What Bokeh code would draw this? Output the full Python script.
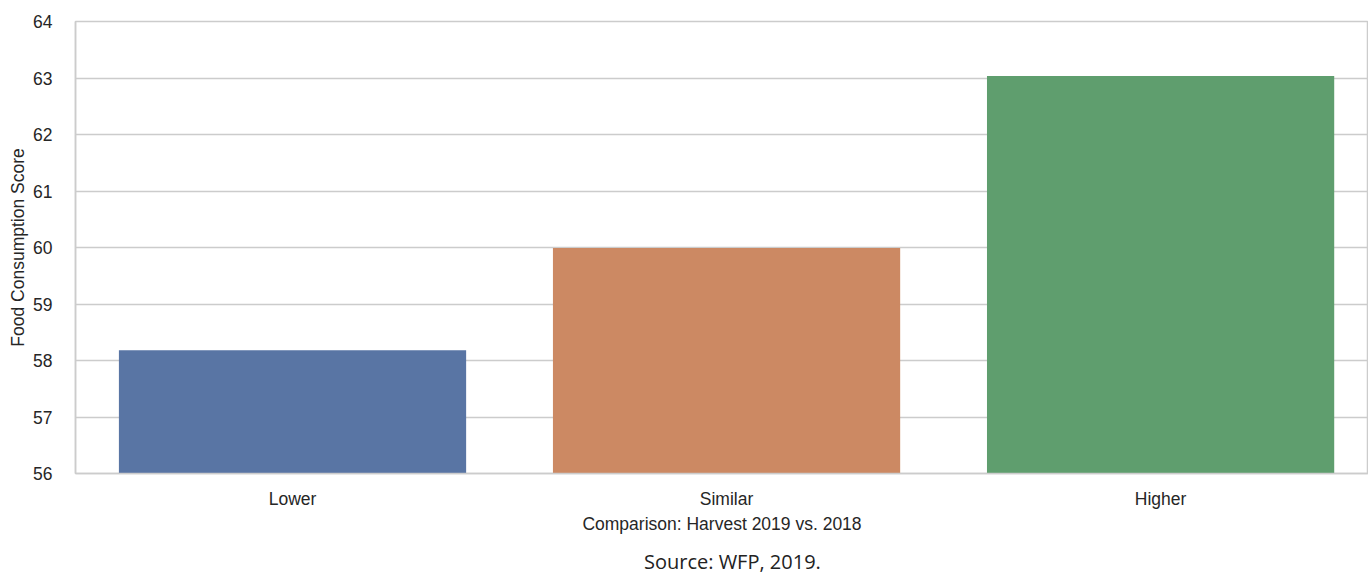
from bokeh.plotting import figure
from bokeh.models import Range1d, FixedTicker, LinearAxis, ColumnDataSource
from bokeh.embed import file_html
from bokeh.resources import INLINE

# ---- data ----
categories = ["Lower", "Similar", "Higher"]
scores = [58.18, 59.99, 63.035]
colors = ["#5975a4", "#cc8963", "#5f9e6e"]
y_ticks = [56, 57, 58, 59, 60, 61, 62, 63, 64]
source_note = "Source: WFP, 2019."

x_pos = list(range(len(categories)))
src = ColumnDataSource(dict(x=x_pos, top=scores, color=colors, cat=categories))

GRID = "#cccccc"
TXT = "#262626"
FONT = "Liberation Sans"

p = figure(width=1368, height=577, output_backend="svg", toolbar_location=None,
           x_range=Range1d(-0.5, 2.479), y_range=Range1d(56, 64),
           min_border_left=75, min_border_right=0, min_border_top=21,
           min_border_bottom=104,
           background_fill_color="white", border_fill_color="white")

p.vbar(x="x", top="top", bottom=56, width=0.8, color="color", line_color=None, source=src)

# frame
p.outline_line_color = GRID
p.outline_line_width = 1.5

# grid
p.xgrid.grid_line_color = None
p.ygrid.grid_line_color = GRID
p.ygrid.grid_line_width = 1.5
p.ygrid.ticker = FixedTicker(ticks=y_ticks)

# axes
for ax in (p.xaxis[0], p.yaxis[0]):
    ax.axis_line_color = GRID
    ax.axis_line_width = 1.5
    ax.major_tick_line_color = None
    ax.minor_tick_line_color = None
    ax.major_label_text_font = FONT
    ax.major_label_text_font_size = "17.5px"
    ax.major_label_text_color = TXT
    ax.axis_label_text_font = FONT
    ax.axis_label_text_font_size = "17.5px"
    ax.axis_label_text_font_style = "normal"
    ax.axis_label_text_color = TXT

p.yaxis.ticker = FixedTicker(ticks=y_ticks)
p.yaxis.axis_label = "Food Consumption Score"
p.yaxis.major_label_standoff = 17
p.yaxis.axis_label_standoff = 2

p.xaxis.ticker = FixedTicker(ticks=x_pos)
p.xaxis.major_label_overrides = {i: c for i, c in zip(x_pos, categories)}
p.xaxis.axis_label = "Comparison: Harvest 2019 vs. 2018"
p.xaxis.major_label_standoff = 9
p.xaxis.axis_label_standoff = 2

# source note as the label of a bare second axis (below the first);
# leading no-break spaces nudge the centred caption slightly to the right
note_axis = LinearAxis(ticker=FixedTicker(ticks=[]),
                       axis_label="\u00a0\u00a0\u00a0\u00a0" + source_note)
note_axis.axis_line_color = None
note_axis.major_tick_line_color = None
note_axis.minor_tick_line_color = None
note_axis.major_label_text_font_size = "0px"
note_axis.major_label_standoff = 0
note_axis.axis_label_standoff = 11
note_axis.axis_label_text_font = "Open Sans"
note_axis.axis_label_text_font_size = "20px"
note_axis.axis_label_text_font_style = "normal"
note_axis.axis_label_text_color = "#222222"
p.add_layout(note_axis, "below")

open("out.html", "w").write(file_html(p, INLINE))
